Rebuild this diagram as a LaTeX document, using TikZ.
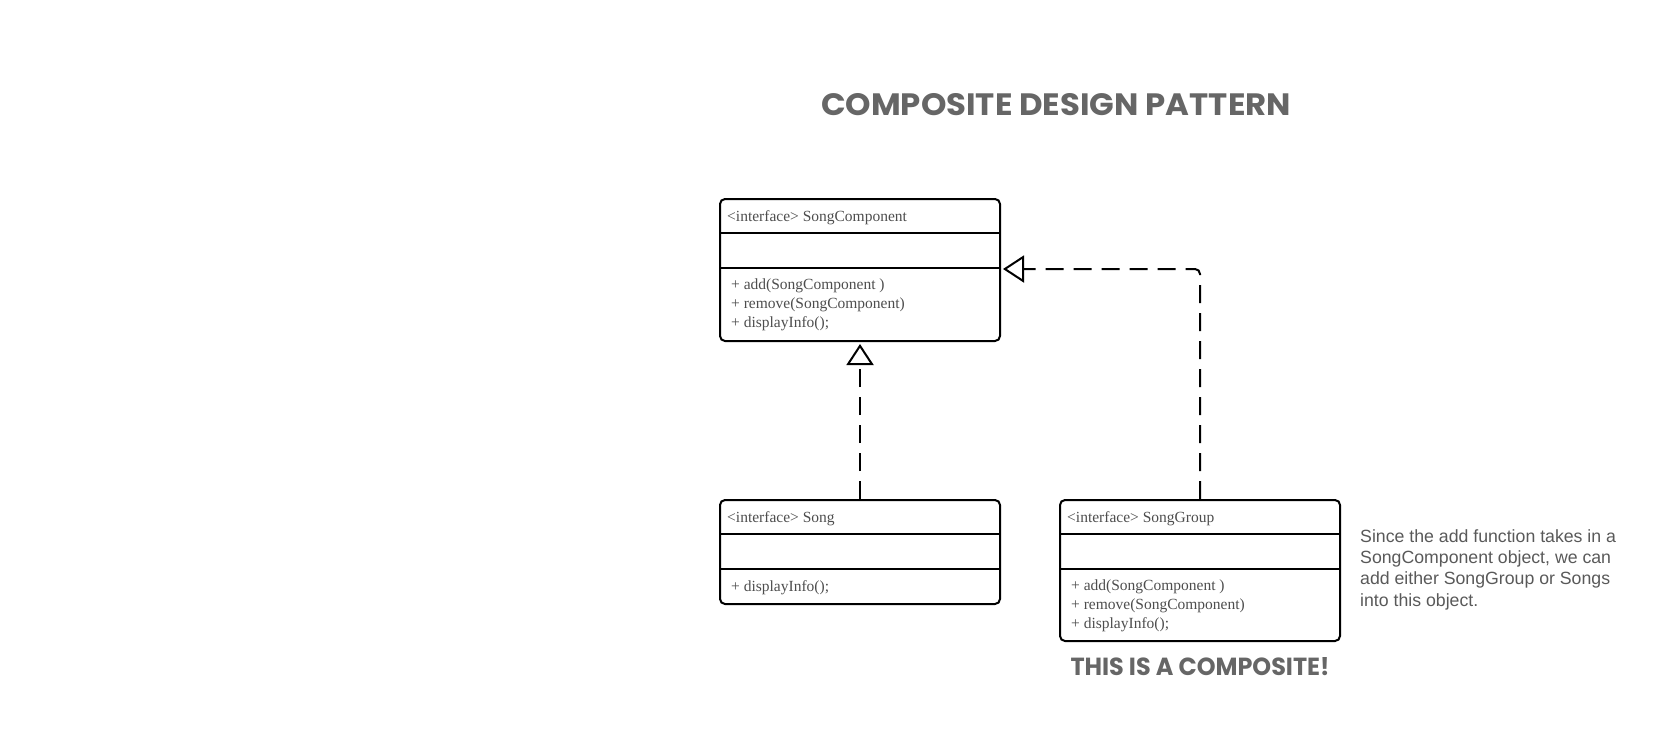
\documentclass[tikz,border=0pt]{standalone}
\usepackage{fontspec}
\usepackage{xcolor}
\usepackage{graphicx}
\setmainfont{Liberation Serif}
\newfontfamily\notefont{Liberation Sans}
\newfontfamily\handfont{Poppins}
\usetikzlibrary{arrows.meta,positioning,calc}
\definecolor{boxtext}{HTML}{4D4D4D}
\definecolor{notegray}{HTML}{595959}
\definecolor{headgray}{HTML}{666666}
\tikzset{>=stealth,
  umlbox/.style={draw,line width=2pt,rounded corners=5pt,minimum width=280pt,inner sep=0pt},
  umltext/.style={inner sep=0pt,text=boxtext,font=\fontsize{15.5}{18.8}\selectfont,align=left},
  divider/.style={line width=2pt},
  realize/.style={line width=2pt,dash pattern=on 18pt off 10pt,shorten >=2pt,
    -{Triangle[open,length=21pt,width=27pt,line width=2pt]}}}

\begin{document}
\begin{tikzpicture}[x=1pt,y=-1pt]
\useasboundingbox (0,0) rectangle (1661,740);
\node[text=headgray,inner sep=0pt] (title) at (1056,105) {\resizebox{470pt}{22pt}{\handfont\bfseries COMPOSITE DESIGN PATTERN}};

    \node[umlbox,minimum height=142pt] (comp) at (860,270) {};
    \draw[divider] ([yshift=-35pt]comp.north west) -- ([yshift=-35pt]comp.north east);
    \draw[divider] ([yshift=-70pt]comp.north west) -- ([yshift=-70pt]comp.north east);
    \node[umltext,anchor=west] (comphead) at ([xshift=8pt,yshift=-19.5pt]comp.north west) {<interface> SongComponent};
    \node[umltext,anchor=north west] (compops) at ([xshift=12pt,yshift=-81pt]comp.north west) {+ add(SongComponent )\\+ remove(SongComponent)\\+ displayInfo();};

    \node[umlbox,minimum height=104pt] (song) at (860,552) {};
    \draw[divider] ([yshift=-35pt]song.north west) -- ([yshift=-35pt]song.north east);
    \draw[divider] ([yshift=-70pt]song.north west) -- ([yshift=-70pt]song.north east);
    \node[umltext,anchor=west] (songhead) at ([xshift=8pt,yshift=-19.5pt]song.north west) {<interface> Song};
    \node[umltext,anchor=north west] (songops) at ([xshift=12pt,yshift=-81pt]song.north west) {+ displayInfo();};

    \node[umlbox,minimum height=141pt] (group) at (1200,570.5) {};
    \draw[divider] ([yshift=-35pt]group.north west) -- ([yshift=-35pt]group.north east);
    \draw[divider] ([yshift=-70pt]group.north west) -- ([yshift=-70pt]group.north east);
    \node[umltext,anchor=west] (grouphead) at ([xshift=8pt,yshift=-19.5pt]group.north west) {<interface> SongGroup};
    \node[umltext,anchor=north west] (groupops) at ([xshift=12pt,yshift=-81pt]group.north west) {+ add(SongComponent )\\+ remove(SongComponent)\\+ displayInfo();};

    \coordinate (compport) at ([yshift=-71pt]comp.north east);
    \draw[realize] (song.north) -- (comp.south);
    \draw[realize,rounded corners=5pt] (group.north) |- (compport);

\node[text=headgray,inner sep=0pt] (label) at (1200,667) {\resizebox{259pt}{18pt}{\handfont\bfseries THIS IS A COMPOSITE!}};
\node[anchor=north west,align=left,inner sep=0pt,text=notegray,font=\notefont\fontsize{17.7}{21.4}\selectfont] (note) at (1360,529) {Since the add function takes in a\\SongComponent object, we can\\add either SongGroup or Songs\\into this object.};
\end{tikzpicture}
\end{document}
